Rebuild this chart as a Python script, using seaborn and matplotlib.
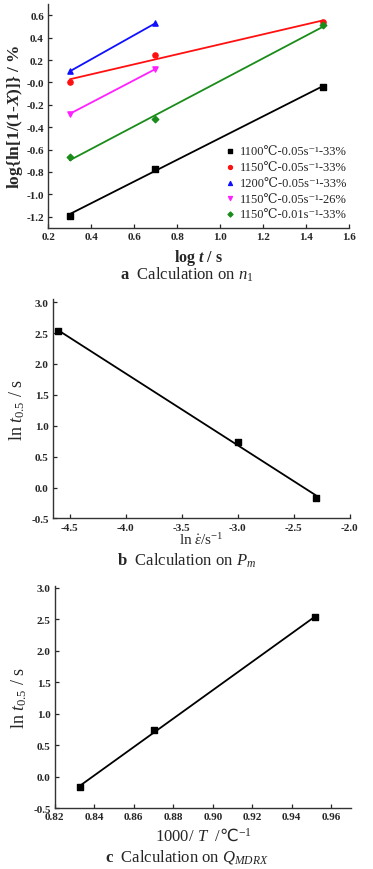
import matplotlib
matplotlib.use('Agg')
import matplotlib.pyplot as plt
import matplotlib.ticker as mticker
import seaborn as sns
import numpy as np

sns.set_style('ticks')
plt.rcParams['font.family'] = ['Liberation Serif', 'DejaVu Serif', 'DejaVu Sans']
plt.rcParams['mathtext.fontset'] = 'custom'
plt.rcParams['mathtext.rm'] = 'Liberation Serif'
plt.rcParams['mathtext.it'] = 'Liberation Serif:italic'
plt.rcParams['mathtext.bf'] = 'Liberation Serif:bold'
plt.rcParams['mathtext.bfit'] = 'Liberation Serif:italic:bold'
plt.rcParams['mathtext.sf'] = 'DejaVu Sans'  # 用来显示 ℃

# 图 a 数据
log_t = [0.301, 0.699, 1.477]
labels_a = ['1100℃-0.05s⁻¹-33%', '1150℃-0.05s⁻¹-33%', '1200℃-0.05s⁻¹-33%',
            '1150℃-0.05s⁻¹-26%', '1150℃-0.01s⁻¹-33%']
y_1100 = [-1.19, -0.77, -0.04]
y_1150 = [0.0, 0.25, 0.54]
y_1200 = [0.10, 0.53]
y_1150_26 = [-0.28, 0.12]
y_1150_001 = [-0.67, -0.33, 0.51]
colors_a = ['black', '#ff1010', '#1010ff', '#ff20ff', '#1a8c1a']
markers_a = ['s', 'o', '^', 'v', 'D']

# 图 b 数据
ln_rate = [-4.605, -2.996, -2.303]
ln_t05_b = [2.53, 0.74, -0.17]

# 图 c 数据
inv_T = [0.833, 0.870, 0.952]
ln_t05_c = [-0.17, 0.74, 2.53]

fig = plt.figure(figsize=(3.73, 8.7), dpi=100)
ax1 = fig.add_axes([0.129, 0.737, 0.807, 0.257])
ax2 = fig.add_axes([0.142, 0.403, 0.796, 0.252])
ax3 = fig.add_axes([0.147, 0.070, 0.794, 0.255])

series_a = [y_1100, y_1150, y_1200, y_1150_26, y_1150_001]
for ys, lab, c, m in zip(series_a, labels_a, colors_a, markers_a):
    xs = log_t[:len(ys)]
    sns.regplot(x=np.array(xs), y=np.array(ys), ax=ax1, ci=None, label=lab,
                color=c, marker=m,
                scatter_kws={'s': 14 if m != 'D' else 11, 'alpha': 1, 'zorder': 3},
                line_kws={'lw': 1.3, 'zorder': 2})
ax1.set_xlim(0.2, 1.6)
ax1.set_ylim(-1.3, 0.7)
ax1.set_xticks(np.arange(0.2, 1.61, 0.2))
ax1.set_yticks(np.arange(-1.2, 0.61, 0.2))
ax1.set_xlabel(r'log $\mathbfit{t}$ / s', fontsize=11.5, fontweight='bold', labelpad=4)
ax1.set_ylabel(r'log{ln[1/(1-$\mathbfit{X}$)]} / %', fontsize=12.5, fontweight='bold', labelpad=1)
ax1.legend(loc='lower right', bbox_to_anchor=(1.02, 0.0), frameon=False, fontsize=9,
           handletextpad=0.1, labelspacing=0.3, handlelength=1.4, borderaxespad=0.2,
           markerscale=0.75)

sns.regplot(x=np.array(ln_rate), y=np.array(ln_t05_b), ax=ax2, ci=None, color='black',
            marker='s', scatter_kws={'s': 16, 'alpha': 1, 'zorder': 3},
            line_kws={'lw': 1.3})
ax2.set_xlim(-4.65, -2.0)
ax2.set_ylim(-0.5, 3.05)
ax2.set_xticks(np.arange(-4.5, -1.99, 0.5))
ax2.set_yticks(np.arange(-0.5, 3.01, 0.5))
ax2.set_xlabel(r'ln $\dot{\mathit{\varepsilon}}$/s$^{-1}$', fontsize=11, labelpad=0)
ax2.set_ylabel(r'ln $\mathit{t}_{0.5}$ / s', fontsize=13, labelpad=3)

sns.regplot(x=np.array(inv_T), y=np.array(ln_t05_c), ax=ax3, ci=None, color='black',
            marker='s', scatter_kws={'s': 16, 'alpha': 1, 'zorder': 3},
            line_kws={'lw': 1.3})
ax3.set_xlim(0.82, 0.97)
ax3.set_ylim(-0.5, 3.02)
ax3.set_xticks(np.arange(0.82, 0.961, 0.02))
ax3.set_yticks(np.arange(-0.5, 3.01, 0.5))
ax3.set_xlabel(r'1000/ $\mathit{T}$  /$\mathsf{℃}^{-1}$', fontsize=12, labelpad=4)
ax3.set_ylabel(r'ln $\mathit{t}_{0.5}$ / s', fontsize=13, labelpad=3)

ax1.xaxis.set_major_formatter(mticker.FormatStrFormatter('%.1f'))
ax1.yaxis.set_major_formatter(mticker.FormatStrFormatter('%.1f'))
ax2.xaxis.set_major_formatter(mticker.FormatStrFormatter('%.1f'))
ax2.yaxis.set_major_formatter(mticker.FormatStrFormatter('%.1f'))
ax3.xaxis.set_major_formatter(mticker.FormatStrFormatter('%.2f'))
ax3.yaxis.set_major_formatter(mticker.FormatStrFormatter('%.1f'))

for ax in (ax1, ax2, ax3):
    sns.despine(ax=ax)
    for s in ('left', 'bottom'):
        ax.spines[s].set_linewidth(1.0)
        ax.spines[s].set_color('#333333')
    ax.tick_params(direction='in', length=3, width=0.9, labelsize=8, pad=3)
    for t in ax.get_xticklabels() + ax.get_yticklabels():
        t.set_fontweight('bold')

fig.text(0.5, 1 - 275 / 870, r'$\mathbf{a}$  Calculation on $\mathit{n}_1$', ha='center', va='center', fontsize=12)
fig.text(0.5, 1 - 561 / 870, r'$\mathbf{b}$  Calculation on $\mathit{P_m}$', ha='center', va='center', fontsize=12)
fig.text(0.5, 1 - 857 / 870, r'$\mathbf{c}$  Calculation on $\mathit{Q_{MDRX}}$', ha='center', va='center', fontsize=12)

fig.savefig('out.png', dpi=100)
